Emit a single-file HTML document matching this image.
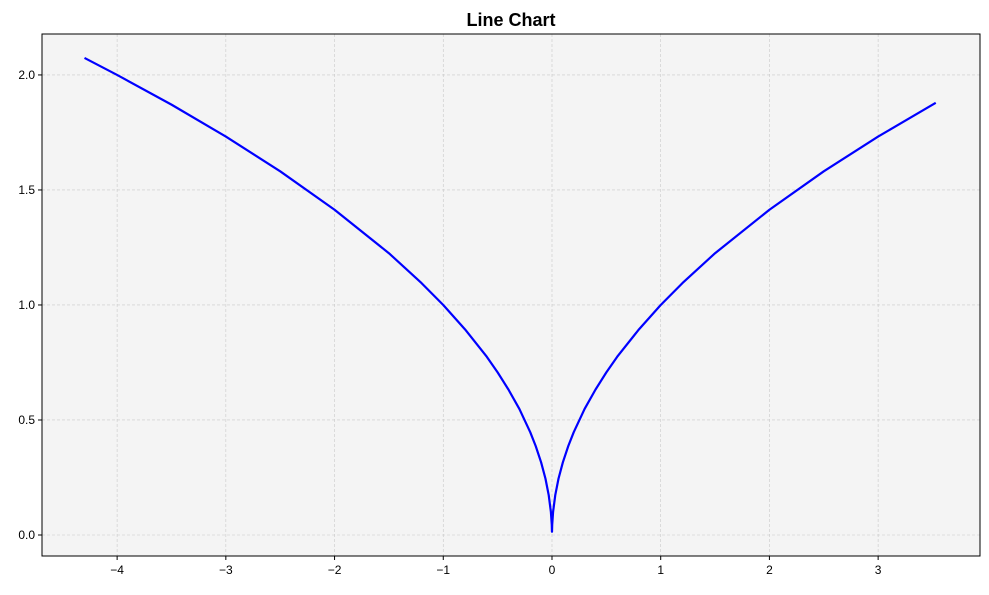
<!DOCTYPE html>
<html><head><meta charset="utf-8"><style>
body{margin:0;background:#fff;font-family:"Liberation Sans",sans-serif}
</style></head><body>
<svg id="chart" width="989" height="590" xmlns="http://www.w3.org/2000/svg">
<text x="511" y="26" text-anchor="middle" font-size="18" font-weight="bold" font-family="Liberation Sans, sans-serif">Line Chart</text>
<rect x="42" y="34" width="938" height="522" fill="#f4f4f4"/>
<g id="grid"></g>
<g id="series"></g>
<rect x="42" y="34" width="938" height="522" fill="none" stroke="#000" stroke-width="1"/>
<g id="axes"></g>
</svg>
<script>
const xValues=[-4.3,-4,-3.5,-3,-2.5,-2,-1.5,-1.2,-1,-0.8,-0.6,-0.5,-0.4,-0.3,-0.2,-0.15,-0.1,-0.06,-0.03,-0.01,-0.002,-0.0002,0.0002,0.002,0.01,0.03,0.06,0.1,0.15,0.2,0.3,0.4,0.5,0.6,0.8,1,1.2,1.5,2,2.5,3,3.53];
const yValues=[2.074,2.0,1.871,1.732,1.581,1.414,1.225,1.095,1.0,0.894,0.775,0.707,0.632,0.548,0.447,0.387,0.316,0.245,0.173,0.1,0.045,0.014,0.014,0.045,0.1,0.173,0.245,0.316,0.387,0.447,0.548,0.632,0.707,0.775,0.894,1.0,1.095,1.225,1.414,1.581,1.732,1.879];
const xTicks=[-4,-3,-2,-1,0,1,2,3];
const yTicks=[0.0,0.5,1.0,1.5,2.0];
const yTickLabels=["0.0","0.5","1.0","1.5","2.0"];
const L=42,R=980,T=34,B=556;
const xMin=-4.691,xMax=3.937,yMin=-0.0913,yMax=2.178;
const sx=v=>L+(v-xMin)/(xMax-xMin)*(R-L);
const sy=v=>B-(v-yMin)/(yMax-yMin)*(B-T);
const NS="http://www.w3.org/2000/svg";
function mk(tag,attrs,parent){const e=document.createElementNS(NS,tag);for(const k in attrs)e.setAttribute(k,attrs[k]);parent.appendChild(e);return e;}
const grid=document.getElementById('grid'),axes=document.getElementById('axes'),series=document.getElementById('series');
xTicks.forEach(t=>{const x=sx(t);
 const g=mk('line',{x1:x,x2:x,y1:T,y2:B,stroke:'#c8c8c8','stroke-width':0.6,'stroke-dasharray':'3,2'},grid);
 
 
 const tk=mk('line',{x1:x,x2:x,y1:B,y2:B+4,stroke:'#000'},axes);
 
 
 const lb=mk('text',{x:x,y:B+18,'text-anchor':'middle','font-size':12},axes);
 lb.textContent=(t<0?'\u2212'+(-t):String(t));
 
 
});
yTicks.forEach((t,i)=>{const y=sy(t);
 const g=mk('line',{x1:L,x2:R,y1:y,y2:y,stroke:'#c8c8c8','stroke-width':0.6,'stroke-dasharray':'3,2'},grid);
 
 
 const tk=mk('line',{x1:L-4,x2:L,y1:y,y2:y,stroke:'#000'},axes);
 
 
 const lb=mk('text',{x:L-7,y:y+4,'text-anchor':'end','font-size':12},axes);
 lb.textContent=yTickLabels[i];
 
 
});
const pts=xValues.map((v,i)=>sx(v).toFixed(2)+','+sy(yValues[i]).toFixed(2)).join(' ');
const pl=mk('polyline',{points:pts,fill:'none',stroke:'#0000ff','stroke-width':2.2,'stroke-linejoin':'round'},series);


</script>
</body></html>
